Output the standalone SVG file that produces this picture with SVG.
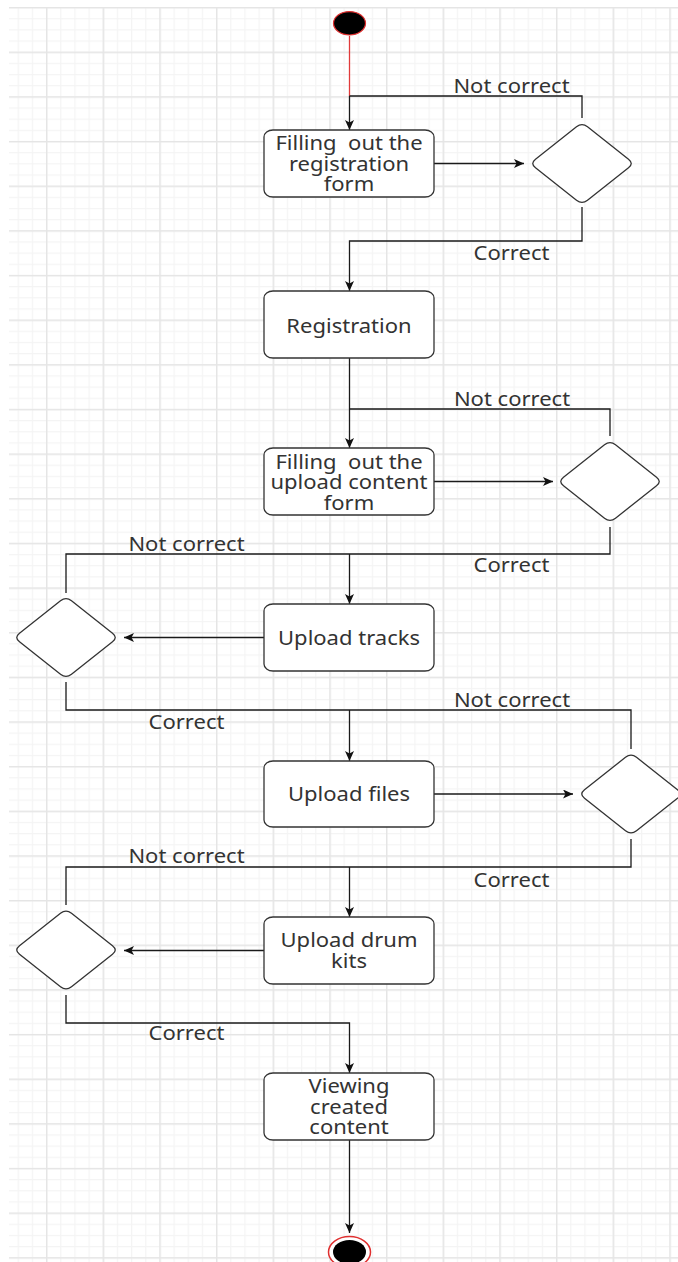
<svg xmlns="http://www.w3.org/2000/svg" xmlns:xlink="http://www.w3.org/1999/xlink" width="678" height="1262" viewBox="0 0 678 1262">
  <style>
    .box { fill: #ffffff; stroke: #333333; stroke-width: 1.3; }
    .dia { fill: #ffffff; stroke: #333333; stroke-width: 1.3; }
    .t { font-family: "Noto Sans", "Open Sans", sans-serif; font-size: 22px; fill: #333333; text-anchor: middle; white-space: pre; }
    .ln { fill: none; stroke: #1a1a1a; stroke-width: 1.3; }
  </style>
  <defs>
    <!-- fine grid -->
    <pattern id="gridMinor" patternUnits="userSpaceOnUse" x="3.5" y="7" width="14.1667" height="11.1625">
      <rect x="0" y="0" width="14.1667" height="1.2" fill="#f4f4f4"/>
      <rect x="0" y="0" width="1.2" height="11.1625" fill="#f4f4f4"/>
    </pattern>
    <!-- major grid -->
    <pattern id="gridMajor" patternUnits="userSpaceOnUse" x="46" y="7" width="56.6667" height="44.65">
      <rect x="0" y="0" width="56.6667" height="1.4" fill="#e5e5e5"/>
      <rect x="0" y="0" width="1.4" height="44.65" fill="#e5e5e5"/>
    </pattern>
    <marker id="arr" viewBox="0 0 10 10" refX="10" refY="5" markerWidth="10" markerHeight="9" markerUnits="userSpaceOnUse" orient="auto" preserveAspectRatio="none">
      <path d="M0,0 L10,5 L0,10 L2.5,5 Z" fill="#111111"/>
    </marker>
    <!-- decision diamond with rounded corners, centred on 0,0 -->
    <path id="diamond" d="M-5.5,-36.7 Q0,-41 5.5,-36.7 L46.5,-4.3 Q52,0 46.5,4.3 L5.5,36.7 Q0,41 -5.5,36.7 L-46.5,4.3 Q-52,0 -46.5,-4.3 Z"/>
  </defs>

  <!-- background -->
  <rect x="0" y="0" width="678" height="1262" fill="#ffffff"/>
  <rect x="9" y="7" width="669" height="1255" fill="url(#gridMinor)"/>
  <rect x="9" y="7" width="669" height="1255" fill="url(#gridMajor)"/>

  <!-- connectors -->
  <g id="connectors">
    <path class="ln" d="M349.5 36 V96" style="stroke:#e03a3a"/>
    <path class="ln" d="M349.5 96 V130" marker-end="url(#arr)"/>
    <path class="ln" d="M434 163.5 H524" marker-end="url(#arr)"/>
    <path class="ln" d="M582 118 V96 H349.5"/>
    <path class="ln" d="M582 207 V241 H349.5 V291" marker-end="url(#arr)"/>
    <path class="ln" d="M349.5 358 V448" marker-end="url(#arr)"/>
    <path class="ln" d="M434 481.5 H553" marker-end="url(#arr)"/>
    <path class="ln" d="M610 436 V409 H349.5"/>
    <path class="ln" d="M610 527 V554 H66 V593"/>
    <path class="ln" d="M349.5 554 V604" marker-end="url(#arr)"/>
    <path class="ln" d="M264 637.5 H124" marker-end="url(#arr)"/>
    <path class="ln" d="M66 682 V710 H631 V749"/>
    <path class="ln" d="M349.5 710 V761" marker-end="url(#arr)"/>
    <path class="ln" d="M434 794 H573" marker-end="url(#arr)"/>
    <path class="ln" d="M631 839 V867 H66 V905"/>
    <path class="ln" d="M349.5 867 V917" marker-end="url(#arr)"/>
    <path class="ln" d="M264 950.5 H124" marker-end="url(#arr)"/>
    <path class="ln" d="M66 995 V1023 H349.5 V1073" marker-end="url(#arr)"/>
    <path class="ln" d="M349.5 1140 V1233" marker-end="url(#arr)"/>
  </g>

  <!-- edge labels -->
  <g id="labels">
    <text class="t" transform="translate(511.5 93) scale(1 0.88)">Not correct</text>
    <text class="t" transform="translate(511.5 260) scale(1 0.88)">Correct</text>
    <text class="t" transform="translate(512 406) scale(1 0.88)">Not correct</text>
    <text class="t" transform="translate(511.5 572) scale(1 0.88)">Correct</text>
    <text class="t" transform="translate(186.5 551) scale(1 0.88)">Not correct</text>
    <text class="t" transform="translate(186.5 729) scale(1 0.88)">Correct</text>
    <text class="t" transform="translate(512 706.5) scale(1 0.88)">Not correct</text>
    <text class="t" transform="translate(186.5 863) scale(1 0.88)">Not correct</text>
    <text class="t" transform="translate(511.5 887) scale(1 0.88)">Correct</text>
    <text class="t" transform="translate(186.5 1040) scale(1 0.88)">Correct</text>
  </g>

  <!-- start -->
  <g id="start">
    <ellipse cx="349.5" cy="23.3" rx="16" ry="11.7" fill="#000000" stroke="#e03030" stroke-width="1.2"/>
  </g>

  <g id="fillRegForm">
    <rect class="box" x="264" y="130" width="170" height="67" rx="9" ry="7"/>
    <text class="t" transform="translate(349 170.7) scale(1 0.88)"><tspan x="0" y="-23.5">Filling  out the</tspan><tspan x="0" y="0">registration</tspan><tspan x="0" y="23.6">form</tspan></text>
  </g>
  <g id="checkReg"><use xlink:href="#diamond" class="dia" x="582" y="163.5"/></g>

  <g id="registration">
    <rect class="box" x="264" y="291" width="170" height="67" rx="9" ry="7"/>
    <text class="t" transform="translate(349 333.3) scale(1 0.88)">Registration</text>
  </g>

  <g id="fillUploadForm">
    <rect class="box" x="264" y="448" width="170" height="67" rx="9" ry="7"/>
    <text class="t" transform="translate(349 489.3) scale(1 0.88)"><tspan x="0" y="-23.6">Filling  out the</tspan><tspan x="0" y="0">upload content</tspan><tspan x="0" y="23.6">form</tspan></text>
  </g>
  <g id="checkUploadForm"><use xlink:href="#diamond" class="dia" x="610" y="481.5"/></g>

  <g id="uploadTracks">
    <rect class="box" x="264" y="604" width="170" height="67" rx="9" ry="7"/>
    <text class="t" transform="translate(349 645) scale(1 0.88)">Upload tracks</text>
  </g>
  <g id="checkTracks"><use xlink:href="#diamond" class="dia" x="66" y="637.5"/></g>

  <g id="uploadFiles">
    <rect class="box" x="264" y="761" width="170" height="66" rx="9" ry="7"/>
    <text class="t" transform="translate(349 801) scale(1 0.88)">Upload files</text>
  </g>
  <g id="checkFiles"><use xlink:href="#diamond" class="dia" x="631" y="794"/></g>

  <g id="uploadDrumKits">
    <rect class="box" x="264" y="917" width="170" height="67" rx="9" ry="7"/>
    <text class="t" transform="translate(349 946.7) scale(1 0.88)"><tspan x="0" y="0">Upload drum</tspan><tspan x="0" y="24.5">kits</tspan></text>
  </g>
  <g id="checkDrumKits"><use xlink:href="#diamond" class="dia" x="66" y="950"/></g>

  <g id="viewContent">
    <rect class="box" x="264" y="1073" width="170" height="67" rx="9" ry="7"/>
    <text class="t" transform="translate(349 1113.5) scale(1 0.88)"><tspan x="0" y="-23.4">Viewing</tspan><tspan x="0" y="0">created</tspan><tspan x="0" y="23.4">content</tspan></text>
  </g>

  <!-- end -->
  <g id="end">
    <ellipse cx="349.5" cy="1252" rx="21" ry="15.5" fill="#ffffff" stroke="#e03030" stroke-width="1.5"/>
    <ellipse cx="349.5" cy="1252" rx="16.5" ry="12" fill="#000000"/>
  </g>
</svg>
